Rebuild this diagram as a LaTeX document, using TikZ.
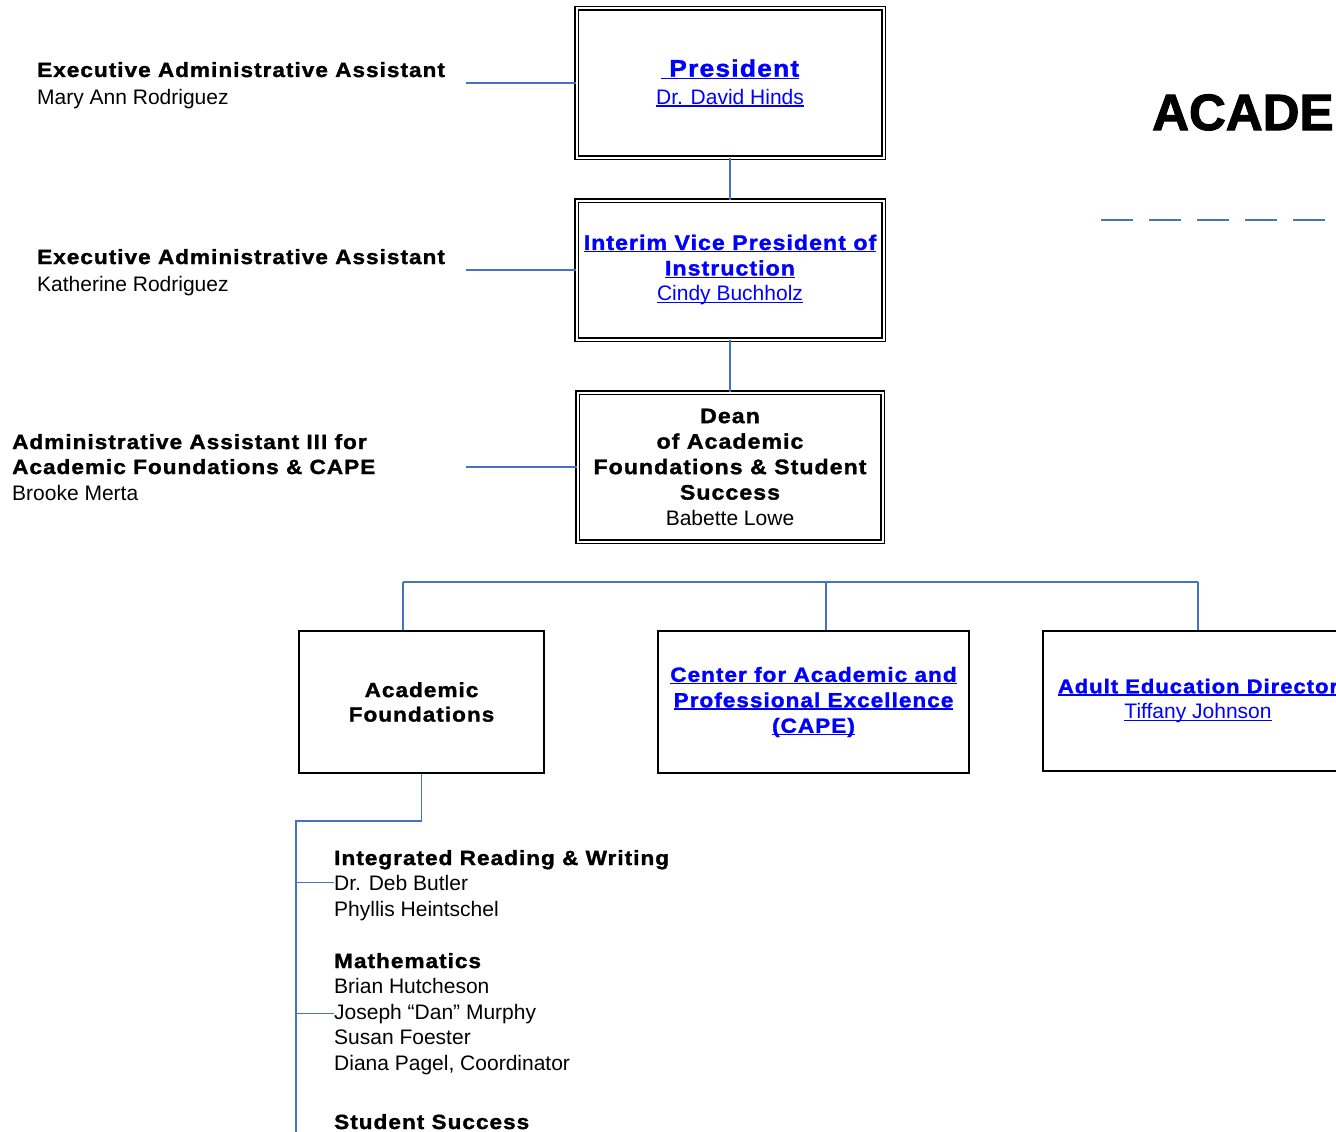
\documentclass[tikz,border=0pt]{standalone}
\usepackage{fontspec}
\setmainfont{Liberation Sans}
\newfontfamily\hfont[FakeStretch=1.1,LetterSpace=5,FakeBold=1.5]{Liberation Sans Bold}
\newfontfamily\tfont[FakeBold=2]{Liberation Sans Bold}
\newcommand{\lnk}[1]{\setbox0\hbox{#1}\leavevmode\rlap{\rule[-2.5pt]{\wd0}{1.4pt}}\box0}

\definecolor{linkblue}{RGB}{68,114,196}
\definecolor{urlblue}{RGB}{0,0,255}

\tikzset{
  topbox/.style={draw, double, line width=1.5pt, double distance=2pt,
    align=center, inner sep=0pt, font=\fontsize{21}{25.5}\selectfont},
  unitbox/.style={draw, line width=2pt, align=center, inner sep=0pt,
    font=\fontsize{21}{25.5}\selectfont},
  link/.style={draw=linkblue, line width=1.8pt},
  lbl/.style={anchor=base west, inner sep=0pt, font=\fontsize{21}{25.5}\selectfont},
  hlbl/.style={anchor=base west, inner sep=0pt, font=\hfont\fontsize{20.5}{25.5}\selectfont}
}

\begin{document}
\begin{tikzpicture}[x=1pt,y=-1pt]
  \useasboundingbox (0,0) rectangle (1336,1132);
  \clip (0,0) rectangle (1336,1132);

  % chain of command
  \node[topbox, text=urlblue, minimum width=307pt, minimum height=149pt] (pres) at (730,83)
    {{\hfont\fontsize{24}{28}\selectfont\lnk{\ President}}\\[2pt]\lnk{Dr. David Hinds}};
  \node[topbox, text=urlblue, minimum width=307pt, minimum height=139pt] (vp) at (730,270)
    {{\hfont\lnk{Interim Vice President of}}\\{\hfont\lnk{Instruction}}\\\lnk{Cindy Buchholz}};
  \node[topbox, minimum width=305pt, minimum height=149pt] (dean) at (730,467)
    {{\hfont Dean}\\{\hfont of Academic}\\{\hfont Foundations \& Student}\\{\hfont Success}\\Babette Lowe};

  % assistants
  \node[hlbl] (eaa1) at (37,77) {Executive Administrative Assistant};
  \node[lbl] (mar) at (37,104) {Mary Ann Rodriguez};
  \node[hlbl] (eaa2) at (37,264) {Executive Administrative Assistant};
  \node[lbl] (kr) at (37,291) {Katherine Rodriguez};
  \node[hlbl] (aa3a) at (12,449) {Administrative Assistant III for};
  \node[hlbl] (aa3b) at (12,474) {Academic Foundations \& CAPE};
  \node[lbl] (bm) at (12,500) {Brooke Merta};

  \coordinate (ea1) at (466,83);
  \coordinate (ea2) at (466,270);
  \coordinate (aa3) at (466,467);

  \draw[link] (ea1) -- (pres.west);
  \draw[link] (ea2) -- (vp.west);
  \draw[link] (aa3) -- (dean.west);
  \draw[link] (pres.south) -- (vp.north);
  \draw[link] (vp.south) -- (dean.north);

  % title
  \node[anchor=base west, inner sep=0pt, font=\tfont\fontsize{51}{60}\selectfont] (title) at (1152,130) {ACADE};
  \coordinate (dashL) at (1101,220);
  \coordinate (dashR) at (1325,220);
  \draw[link, dash pattern=on 32pt off 16pt] (dashL) -- (dashR);

  % units
  \node[unitbox, font=\hfont\fontsize{20.5}{24.5}\selectfont, minimum width=245pt, minimum height=142pt] (af) at (421.5,702)
    {Academic\\Foundations};
  \node[unitbox, text=urlblue, font=\hfont\fontsize{20.5}{25.5}\selectfont, minimum width=311pt, minimum height=142pt] (cape) at (813.5,702)
    {\lnk{Center for Academic and}\\\lnk{Professional Excellence}\\\lnk{(CAPE)}};
  \node[unitbox, text=urlblue, minimum width=310pt, minimum height=140pt] (adult) at (1198,701)
    {{\hfont\fontsize{20}{25.5}\selectfont\lnk{Adult Education Director}}\\\lnk{Tiffany Johnson}};

  \coordinate (busL) at (403,582);
  \coordinate (busM) at (826,582);
  \coordinate (busR) at (1198,582);
  \draw[link] (busL) -- (busR);
  \draw[link] (busL) -- (busL |- af.north);
  \draw[link] (busM) -- (busM |- cape.north);
  \draw[link] (busR) -- (adult.north);

  % academic foundations staff
  \foreach \n/\y/\t in {irw/865/Integrated Reading \& Writing, math/968/Mathematics, ss/1129/Student Success}
    \node[hlbl] (\n) at (334,\y) {\t};
  \foreach \n/\y/\t in {ddb/890/Dr. Deb Butler, ph/916/Phyllis Heintschel, bh/993/Brian Hutcheson,
      jdm/1019/{Joseph “Dan” Murphy}, sf/1044/Susan Foester, dp/1070/{Diana Pagel, Coordinator}}
    \node[lbl] (\n) at (334,\y) {\t};

  \coordinate (spTop) at (296,821);
  \coordinate (spEnd) at (296,1140);
  \draw[link] (af.south) |- (spTop) -- (spEnd);
  \draw[link] (ddb.west -| spTop) -- (ddb.west);
  \draw[link] (jdm.west -| spTop) -- (jdm.west);
\end{tikzpicture}
\end{document}
